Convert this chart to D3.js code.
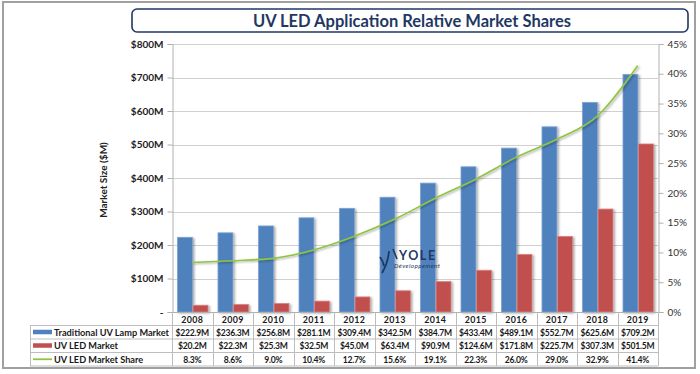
<!DOCTYPE html>
<html><head><meta charset="utf-8">
<script src="https://cdn.jsdelivr.net/npm/d3@7"></script>
<style>
html,body{margin:0;padding:0;background:#fff;}
svg{display:block;font-family:Lato,"Open Sans",sans-serif;}
</style></head>
<body><svg id="c" width="700" height="374"></svg>
<script>
const years = ["2008","2009","2010","2011","2012","2013","2014","2015","2016","2017","2018","2019"];
const traditional = [222.9,236.3,256.8,281.1,309.4,342.5,384.7,433.4,489.1,552.7,625.6,709.2];
const uvLed = [20.2,22.3,25.3,32.5,45.0,63.4,90.9,124.6,171.8,225.7,307.3,501.5];
const share = [8.3,8.6,9.0,10.4,12.7,15.6,19.1,22.3,26.0,29.0,32.9,41.4];
const leftTicks = [0,100,200,300,400,500,600,700,800];
const rightTicks = [0,5,10,15,20,25,30,35,40,45];
const seriesNames = ["Traditional UV Lamp Market","UV LED Market","UV LED Market Share"];
const title = "UV LED Application Relative Market Shares";

const svg = d3.select("#c");
const X0=172, X1=658, Y0=44, Y1=312;
const blue="#4f81bd", red="#c0504d", green="#8dc63f", navy="#1f3864", grid="#d0d0d0", axisC="#b0b0b0";

const defs = svg.append("defs");
const f = defs.append("filter").attr("id","sh").attr("x","-20%").attr("y","-20%").attr("width","160%").attr("height","160%");
f.append("feDropShadow").attr("dx",1.5).attr("dy",1).attr("stdDeviation",0.8).attr("flood-color","#000").attr("flood-opacity",0.35);

// outer frame
svg.append("rect").attr("x",3).attr("y",2).attr("width",692).attr("height",366)
  .attr("fill","none").attr("stroke","#a0a0a0").attr("stroke-width",2);

// title
svg.append("rect").attr("x",132).attr("y",9).attr("width",556).attr("height",23).attr("rx",5)
  .attr("fill","#fff").attr("stroke",navy).attr("stroke-width",1.6);
svg.append("text").attr("x",412).attr("y",27).attr("text-anchor","middle")
  .attr("font-size",16.5).attr("font-weight","bold").attr("fill",navy).text(title);

const x = d3.scaleBand().domain(years).range([X0,X1]).padding(0);
const xs = d3.scaleBand().domain(["t","l"]).range([5.5, x.bandwidth()-4.5]).paddingInner(0.04);
const y = d3.scaleLinear().domain([0,800]).range([Y1,Y0]);
const y2 = d3.scaleLinear().domain([0,45]).range([Y1,Y0]);

// gridlines
svg.append("g").selectAll("line").data(leftTicks.slice(1)).join("line")
  .attr("x1",X0).attr("x2",X1).attr("y1",d=>Math.round(y(d))+0.5).attr("y2",d=>Math.round(y(d))+0.5)
  .attr("stroke",grid).attr("stroke-width",1);

// left axis
const ga = svg.append("g").attr("transform",`translate(${X0+0.5},0)`)
  .call(d3.axisLeft(y).tickValues(leftTicks).tickSize(5).tickPadding(4)
    .tickFormat(d=> d===0 ? "-" : "$"+d+"M"));
ga.select(".domain").attr("stroke",axisC);
ga.selectAll(".tick line").attr("stroke",axisC);
ga.selectAll("text").attr("font-size",10).attr("font-weight","bold").attr("fill","#222").attr("font-family","Lato");

// right axis
const gr = svg.append("g").attr("transform",`translate(${X1+0.5},0)`)
  .call(d3.axisRight(y2).tickValues(rightTicks).tickSize(5).tickPadding(4).tickFormat(d=>d+"%"));
gr.select(".domain").attr("stroke",axisC);
gr.selectAll(".tick line").attr("stroke",axisC);
gr.selectAll("text").attr("font-size",10).attr("fill","#333").attr("font-family","Lato");

// y title
svg.append("text").attr("transform","translate(107,180) rotate(-90)").attr("text-anchor","middle")
  .attr("font-size",10).attr("font-weight","bold").attr("fill","#222").text("Market Size ($M)");

// bars
const bars = svg.append("g").attr("filter","url(#sh)");
bars.selectAll("rect.t").data(years).join("rect").attr("class","t")
  .attr("x",d=>x(d)+xs("t")).attr("width",xs.bandwidth())
  .attr("y",(d,i)=>y(traditional[i])).attr("height",(d,i)=>Y1-y(traditional[i]))
  .attr("fill",blue).attr("stroke","#7ea3d4").attr("stroke-width",0.8);
bars.selectAll("rect.l").data(years).join("rect").attr("class","l")
  .attr("x",d=>x(d)+xs("l")).attr("width",xs.bandwidth())
  .attr("y",(d,i)=>y(uvLed[i])).attr("height",(d,i)=>Y1-y(uvLed[i]))
  .attr("fill",red).attr("stroke","#d88482").attr("stroke-width",0.8);

// x axis line
svg.append("line").attr("x1",X0).attr("x2",X1).attr("y1",Y1+0.5).attr("y2",Y1+0.5).attr("stroke",axisC);

// share line
const line = d3.line().x((d,i)=>x(years[i])+x.bandwidth()/2).y(d=>y2(d)).curve(d3.curveMonotoneX);
svg.append("path").datum(share).attr("d",line).attr("fill","none")
  .attr("stroke",green).attr("stroke-width",1.6).attr("filter","url(#sh)");

// logo
const logo = svg.append("g");
logo.append("path").attr("d","M380,257 Q383,261 384,266 M389,251 Q388,263 382,273")
  .attr("fill","none").attr("stroke",navy).attr("stroke-width",1.8);
logo.append("path").attr("d","M393,249 L397,259").attr("stroke",navy).attr("stroke-width",1.6);
logo.append("text").attr("x",399).attr("y",260).attr("font-size",12.5).attr("font-weight","bold")
  .attr("fill",navy).attr("letter-spacing",1.6).text("YOLE");
logo.append("text").attr("x",394).attr("y",267.5).attr("font-size",6.3).attr("font-style","italic")
  .attr("fill",navy).attr("letter-spacing",0.4).text("Développement");

// table
const rowsY = [312.5, 325.5, 339, 352.5, 366];
const tcol = "#bdbdbd";
const tb = svg.append("g");
rowsY.slice(1).forEach(yy=>{
  tb.append("line").attr("x1",30).attr("x2",X1).attr("y1",yy).attr("y2",yy).attr("stroke",tcol);
});
const vx = years.map(d=>x(d)).concat([X1]);
vx.forEach(xx=>{
  tb.append("line").attr("x1",Math.round(xx)+0.5).attr("x2",Math.round(xx)+0.5).attr("y1",rowsY[0]).attr("y2",rowsY[4]).attr("stroke",tcol);
});
tb.append("line").attr("x1",30.5).attr("x2",30.5).attr("y1",rowsY[1]).attr("y2",rowsY[4]).attr("stroke",tcol);

const fs = 8.6;
tb.selectAll("text.yr").data(years).join("text").attr("class","yr")
  .attr("x",d=>x(d)+x.bandwidth()/2).attr("y",rowsY[0]+10.3).attr("text-anchor","middle")
  .attr("font-size",fs+0.3).attr("font-weight","bold").attr("fill","#1a1a1a").attr("letter-spacing",0.3).text(d=>d);
const rowsData = [traditional.map(v=>"$"+v.toFixed(1)+"M"), uvLed.map(v=>"$"+v.toFixed(1)+"M"), share.map(v=>v.toFixed(1)+"%")];
rowsData.forEach((arr,r)=>{
  tb.selectAll("text.r"+r).data(arr).join("text").attr("class","r"+r)
    .attr("x",(d,i)=>x(years[i])+x.bandwidth()/2).attr("y",rowsY[r+1]+10.2).attr("text-anchor","middle")
    .attr("font-size",fs).attr("font-weight","bold").attr("fill","#1a1a1a").attr("letter-spacing",-0.25).text(d=>d);
});
seriesNames.forEach((nm,r)=>{
  const cy = (rowsY[r+1]+rowsY[r+2])/2;
  if(r<2){
    tb.append("rect").attr("x",33).attr("y",cy-2.5).attr("width",19).attr("height",4.5).attr("fill",r===0?blue:red);
  } else {
    tb.append("line").attr("x1",33).attr("x2",52).attr("y1",cy).attr("y2",cy).attr("stroke",green).attr("stroke-width",1.8);
  }
  tb.append("text").attr("x",54).attr("y",rowsY[r+1]+10.2).attr("font-size",9.2).attr("font-weight","bold")
    .attr("fill","#1a1a1a").text(nm);
});
</script></body></html>
